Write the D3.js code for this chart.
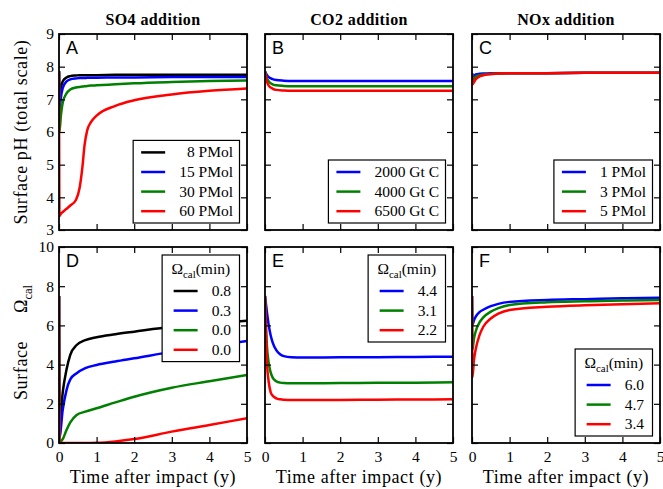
<!DOCTYPE html>
<html>
<head>
<meta charset="utf-8">
<script src="https://cdn.jsdelivr.net/npm/d3@7"></script>
<style>
  body { margin: 0; background: #fff; }
  svg { display: block; }
</style>
</head>
<body>
<div id="chart"></div>
<script>
// tick values
const xTicks = [0, 1, 2, 3, 4, 5];
const phTicks = [3, 4, 5, 6, 7, 8, 9];
const omegaTicks = [0, 2, 4, 6, 8, 10];

// SO4 addition
const so4Labels = ['8 PMol', '15 PMol', '30 PMol', '60 PMol'];
const so4Time = [0, 0.01, 0.05, 0.1, 0.2, 0.3, 0.45, 0.55, 0.62, 0.68, 0.75, 0.85, 1, 1.5, 2, 3, 4, 5];
const so4PH = [
  [7.86, 7.0, 7.35, 7.55, 7.67, 7.71, 7.73, 7.74, 7.74, 7.74, 7.74, 7.74, 7.74, 7.75, 7.75, 7.75, 7.75, 7.75],
  [7.86, 6.6, 7.05, 7.35, 7.55, 7.61, 7.64, 7.65, 7.65, 7.65, 7.66, 7.66, 7.66, 7.67, 7.67, 7.68, 7.68, 7.68],
  [7.86, 6.0, 6.5, 6.9, 7.18, 7.3, 7.36, 7.38, 7.39, 7.4, 7.41, 7.42, 7.43, 7.46, 7.49, 7.53, 7.56, 7.58],
  [7.86, 3.43, 3.5, 3.55, 3.65, 3.75, 3.92, 4.3, 4.9, 5.6, 6.05, 6.3, 6.5, 6.8, 6.97, 7.15, 7.26, 7.33]
];
const so4OmegaLabels = ['0.8', '0.3', '0.0', '0.0'];
const so4OmegaTime = [0, 0.01, 0.1, 0.2, 0.3, 0.47, 0.7, 1, 1.5, 2, 3, 4, 5];
const so4Omega = [
  [7.5, 0.8, 2.6, 3.75, 4.5, 5.0, 5.25, 5.4, 5.55, 5.68, 5.93, 6.1, 6.24],
  [7.5, 0.3, 1.7, 2.7, 3.25, 3.56, 3.82, 3.98, 4.16, 4.32, 4.65, 4.93, 5.2],
  [7.5, 0.0, 0.2, 0.66, 1.05, 1.43, 1.6, 1.77, 2.07, 2.36, 2.82, 3.15, 3.47],
  [7.5, 0.0, 0.0, 0.0, 0.0, 0.0, 0.0, 0.01, 0.08, 0.2, 0.58, 0.92, 1.26]
];

// CO2 addition
const co2Labels = ['2000 Gt C', '4000 Gt C', '6500 Gt C'];
const co2Time = [0, 0.05, 0.1, 0.2, 0.3, 0.5, 0.7, 1, 2, 3, 4, 5];
const co2PH = [
  [7.85, 7.75, 7.68, 7.62, 7.59, 7.57, 7.56, 7.56, 7.56, 7.56, 7.56, 7.56],
  [7.85, 7.65, 7.55, 7.46, 7.43, 7.41, 7.4, 7.4, 7.4, 7.4, 7.4, 7.4],
  [7.85, 7.55, 7.42, 7.33, 7.29, 7.27, 7.26, 7.26, 7.26, 7.26, 7.26, 7.26]
];
const co2OmegaLabels = ['4.4', '3.1', '2.2'];
const co2OmegaTime = [0, 0.05, 0.1, 0.15, 0.2, 0.3, 0.4, 0.5, 0.7, 1, 2, 3, 4, 5];
const co2Omega = [
  [7.5, 6.7, 6.0, 5.5, 5.15, 4.74, 4.53, 4.43, 4.37, 4.36, 4.37, 4.38, 4.39, 4.4],
  [7.5, 5.0, 4.07, 3.6, 3.35, 3.15, 3.08, 3.06, 3.05, 3.05, 3.06, 3.07, 3.08, 3.1],
  [7.5, 4.2, 3.1, 2.6, 2.42, 2.28, 2.23, 2.21, 2.2, 2.2, 2.2, 2.21, 2.22, 2.23]
];

// NOx addition
const noxLabels = ['1 PMol', '3 PMol', '5 PMol'];
const noxTime = [0, 0.01, 0.1, 0.2, 0.35, 0.5, 0.7, 1, 2, 3, 4, 5];
const noxPH = [
  [7.8, 7.7, 7.76, 7.78, 7.79, 7.8, 7.8, 7.8, 7.8, 7.81, 7.81, 7.81],
  [7.8, 7.58, 7.7, 7.74, 7.77, 7.78, 7.79, 7.8, 7.8, 7.81, 7.81, 7.81],
  [7.8, 7.46, 7.62, 7.7, 7.75, 7.77, 7.79, 7.8, 7.8, 7.81, 7.81, 7.81]
];
const noxOmegaLabels = ['6.0', '4.7', '3.4'];
const noxOmegaTime = [0, 0.01, 0.05, 0.1, 0.2, 0.3, 0.5, 0.7, 1, 2, 3, 4, 5];
const noxOmega = [
  [7.5, 6.02, 6.25, 6.45, 6.68, 6.8, 6.98, 7.1, 7.2, 7.3, 7.34, 7.38, 7.41],
  [7.5, 4.75, 5.3, 5.7, 6.15, 6.41, 6.7, 6.88, 7.04, 7.18, 7.23, 7.27, 7.3],
  [7.5, 3.35, 4.2, 4.8, 5.5, 5.93, 6.35, 6.6, 6.79, 6.95, 7.03, 7.08, 7.13]
];

const colors4 = ['#000000', '#0000ff', '#008000', '#ff0000'];
const colors3 = ['#0000ff', '#008000', '#ff0000'];

const width = 663;
const height = 489;
const colLeft = [59, 265, 472];
const rowTop = [34, 247];
const panelW = 188;
const panelH = 196;
const serif = 'Liberation Serif, Times New Roman, serif';

const panels = [
  { row: 0, col: 0, letter: 'A', title: 'SO4 addition', time: so4Time, values: so4PH, labels: so4Labels, colors: colors4, loc: 'lower', legendTitle: false },
  { row: 0, col: 1, letter: 'B', title: 'CO2 addition', time: co2Time, values: co2PH, labels: co2Labels, colors: colors3, loc: 'lower', legendTitle: false },
  { row: 0, col: 2, letter: 'C', title: 'NOx addition', time: noxTime, values: noxPH, labels: noxLabels, colors: colors3, loc: 'lower', legendTitle: false },
  { row: 1, col: 0, letter: 'D', time: so4OmegaTime, values: so4Omega, labels: so4OmegaLabels, colors: colors4, loc: 'upper', legendTitle: true },
  { row: 1, col: 1, letter: 'E', time: co2OmegaTime, values: co2Omega, labels: co2OmegaLabels, colors: colors3, loc: 'upper', legendTitle: true },
  { row: 1, col: 2, letter: 'F', time: noxOmegaTime, values: noxOmega, labels: noxOmegaLabels, colors: colors3, loc: 'lower', legendTitle: true }
];

const svg = d3.select('#chart')
  .append('svg')
  .attr('width', width)
  .attr('height', height)
  .style('background', '#fff');

// adds "Ω_cal" with a subscript to a text element
function omegaCal(text, size) {
  text.append('tspan').text('Ω');
  text.append('tspan')
    .attr('font-size', size * 0.7)
    .attr('dy', size * 0.25)
    .text('cal');
}

panels.forEach((p, pi) => {
  let x0 = colLeft[p.col];
  let y0 = rowTop[p.row];
  let x = d3.scaleLinear().domain([0, 5]).range([0, panelW]);
  let yTicks = p.row === 0 ? phTicks : omegaTicks;
  let y = d3.scaleLinear().domain(d3.extent(yTicks)).range([panelH, 0]);

  let g = svg.append('g').attr('transform', `translate(${x0},${y0})`);

  svg.append('clipPath')
    .attr('id', 'clip' + pi)
    .append('rect')
    .attr('width', panelW)
    .attr('height', panelH);

  // curves
  let line = d3.line()
    .x(d => x(d[0]))
    .y(d => y(d[1]))
    .curve(d3.curveMonotoneX);

  g.append('g')
    .attr('clip-path', `url(#clip${pi})`)
    .selectAll('path')
    .data(p.values)
    .enter()
    .append('path')
    .attr('fill', 'none')
    .attr('stroke', (_, i) => p.colors[i])
    .attr('stroke-width', 2.5)
    .attr('d', vals => line(vals.map((v, i) => [i === 0 ? 0 : Math.max(p.time[i], 0.012), v])));

  // axes with inward ticks on all four sides
  let showX = p.row === 1;
  let showY = p.col === 0;
  let axes = [
    g.append('g').attr('transform', `translate(0,${panelH})`)
      .call(d3.axisBottom(x).tickValues(xTicks).tickSizeInner(-6).tickSizeOuter(0).tickPadding(8)
        .tickFormat(showX ? d3.format('d') : () => '')),
    g.append('g')
      .call(d3.axisTop(x).tickValues(xTicks).tickSizeInner(-6).tickSizeOuter(0).tickFormat(() => '')),
    g.append('g')
      .call(d3.axisLeft(y).tickValues(yTicks).tickSizeInner(-6).tickSizeOuter(0).tickPadding(5)
        .tickFormat(showY ? d3.format('d') : () => '')),
    g.append('g').attr('transform', `translate(${panelW},0)`)
      .call(d3.axisRight(y).tickValues(yTicks).tickSizeInner(-6).tickSizeOuter(0).tickFormat(() => ''))
  ];
  axes.forEach(a => {
    a.select('.domain').remove();
    a.selectAll('line').attr('stroke', '#000').attr('stroke-width', 1.2);
    a.selectAll('text').attr('font-family', serif).attr('font-size', 15.5).attr('fill', '#000');
  });

  g.append('rect')
    .attr('width', panelW)
    .attr('height', panelH)
    .attr('fill', 'none')
    .attr('stroke', '#000')
    .attr('stroke-width', 1.8);

  // panel letter
  g.append('text')
    .attr('x', 7)
    .attr('y', 20)
    .attr('font-family', 'Liberation Sans, Arial, sans-serif')
    .attr('font-size', 18)
    .text(p.letter);

  // column title
  if (p.title) {
    g.append('text')
      .attr('x', panelW / 2)
      .attr('y', -9)
      .attr('text-anchor', 'middle')
      .attr('font-family', serif)
      .attr('font-weight', 'bold')
      .attr('font-size', 16)
      .attr('letter-spacing', 0.4)
      .text(p.title);
  }

  // legend
  let lg = g.append('g');
  let box = lg.append('rect')
    .attr('fill', '#fff')
    .attr('stroke', '#000')
    .attr('stroke-width', 1.2);
  let texts = lg.selectAll('text.entry')
    .data(p.labels)
    .enter()
    .append('text')
    .attr('class', 'entry')
    .attr('font-family', serif)
    .attr('font-size', 15.5)
    .attr('text-anchor', 'end')
    .text(d => d);
  let maxText = d3.max(texts.nodes(), n => n.getComputedTextLength());
  let titleW = 0;
  let title = null;
  if (p.legendTitle) {
    title = lg.append('text')
      .attr('font-family', serif)
      .attr('font-size', 15.5)
      .attr('text-anchor', 'middle');
    omegaCal(title, 15.5);
    title.append('tspan').attr('dy', -15.5 * 0.25).text('(min)');
    titleW = title.node().getComputedTextLength();
  }
  let padL = p.legendTitle ? 11.5 : 8;
  let padR = p.legendTitle ? 8.5 : 6.5;
  let lineLen = 24;
  let boxW = Math.max(padL + lineLen + 14 + maxText + padR, titleW + 13);
  let rowStep = 19.6;
  let headH = p.legendTitle ? 36 : 12;
  let boxH = headH + (p.labels.length - 1) * rowStep + 11.8;
  let bx = panelW - 7.5 - boxW;
  let by = p.loc === 'lower' ? panelH - 7 - boxH : 8;
  box.attr('x', bx).attr('y', by).attr('width', boxW).attr('height', boxH);
  if (title) {
    title.attr('x', bx + boxW / 2).attr('y', by + 19);
  }
  texts
    .attr('x', bx + boxW - padR)
    .attr('y', (_, i) => by + headH + i * rowStep + 5);
  lg.selectAll('line.entry')
    .data(p.labels)
    .enter()
    .append('line')
    .attr('x1', bx + padL)
    .attr('x2', bx + padL + lineLen)
    .attr('y1', (_, i) => by + headH + i * rowStep)
    .attr('y2', (_, i) => by + headH + i * rowStep)
    .attr('stroke', (_, i) => p.colors[i])
    .attr('stroke-width', 2.5);

  // x axis label
  if (showX) {
    g.append('text')
      .attr('x', panelW / 2)
      .attr('y', panelH + 40)
      .attr('text-anchor', 'middle')
      .attr('font-family', serif)
      .attr('font-size', 18)
      .attr('letter-spacing', 0.6)
      .text('Time after impact (y)');
  }
});

// y axis labels
svg.append('text')
  .attr('transform', `translate(27,${rowTop[0] + panelH / 2}) rotate(-90)`)
  .attr('text-anchor', 'middle')
  .attr('font-family', serif)
  .attr('font-size', 18)
  .attr('letter-spacing', 0.6)
  .text('Surface pH (total scale)');

let yl = svg.append('g').attr('transform', `translate(27,0) rotate(-90)`);
yl.append('text')
  .attr('x', -400)
  .attr('font-family', serif)
  .attr('font-size', 18)
  .attr('letter-spacing', 0.6)
  .text('Surface');
let om = yl.append('text')
  .attr('x', -313)
  .attr('font-family', serif)
  .attr('font-size', 18);
omegaCal(om, 18);
</script>
</body>
</html>
